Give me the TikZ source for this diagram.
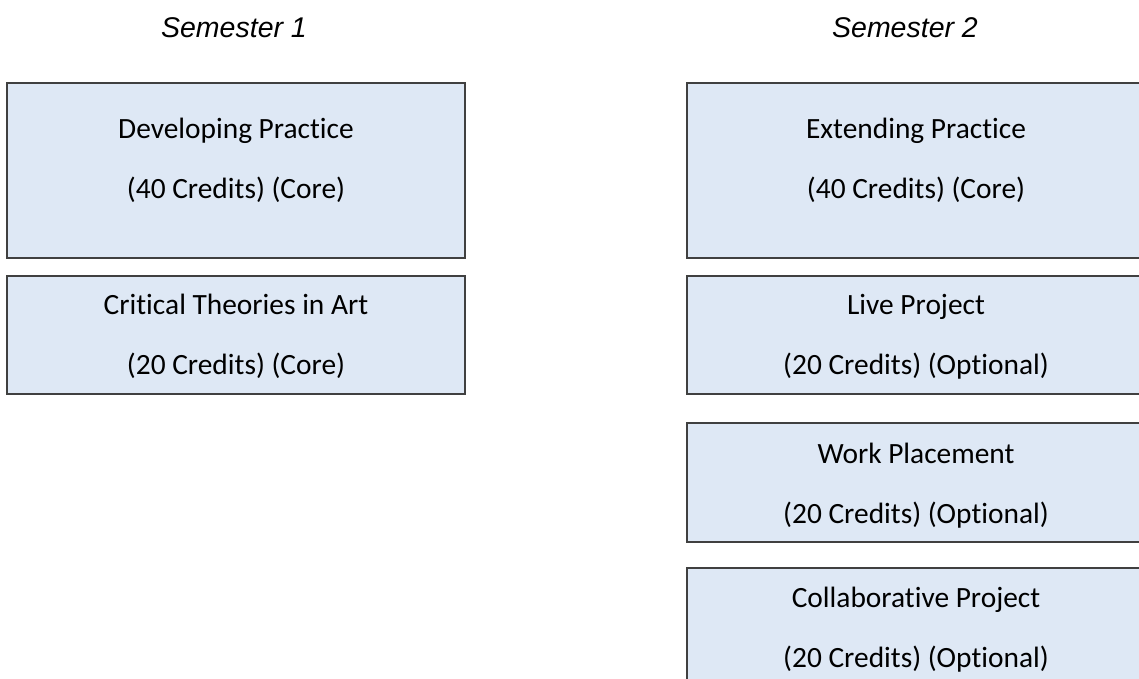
\documentclass[tikz,border=0pt]{standalone}
\usepackage{fontspec}
\setmainfont{Carlito}[Ligatures={NoCommon,NoContextual}]
\newfontfamily\headfont{Liberation Sans}
\definecolor{boxfill}{HTML}{DEE8F5}
\definecolor{boxline}{HTML}{404040}
\begin{document}
\begin{tikzpicture}[x=1pt,y=-1pt,
  modbox/.style={draw=boxline,line width=1.4pt,fill=boxfill},
  label/.style={anchor=base,inner sep=0pt,font=\fontsize{29.4}{34}\selectfont},
  head/.style={anchor=base,inner sep=0pt,font=\headfont\itshape\fontsize{28.5}{33}\selectfont}]
\useasboundingbox (0,0) rectangle (1139,679);
\clip (0,0) rectangle (1139,679);
\fill[white] (0,0) rectangle (1139,679);
% headings
\node[head] (s1) at (234,38) {Semester 1};
\node[head] (s2) at (905,38) {Semester 2};
% boxes
\draw[modbox] (7,83) rectangle (465,258);
\draw[modbox] (7,276) rectangle (465,394);
\draw[modbox] (687,83) rectangle (1147,258);
\draw[modbox] (687,276) rectangle (1147,394);
\draw[modbox] (687,423) rectangle (1147,542);
\draw[modbox] (687,568) rectangle (1147,700);
% texts
\node[label] (a1) at (236,139) {Developing Practice};
\node[label] (a2) at (236,198) {(40 Credits) (Core)};
\node[label] (b1) at (236,314) {Critical Theories in Art};
\node[label] (b2) at (236,374) {(20 Credits) (Core)};
\node[label] (c1) at (916,139) {Extending Practice};
\node[label] (c2) at (916,198) {(40 Credits) (Core)};
\node[label] (d1) at (916,314) {Live Project};
\node[label] (d2) at (916,374) {(20 Credits) (Optional)};
\node[label] (e1) at (916,463) {Work Placement};
\node[label] (e2) at (916,523) {(20 Credits) (Optional)};
\node[label] (f1) at (916,607) {Collaborative Project};
\node[label] (f2) at (916,667) {(20 Credits) (Optional)};
\end{tikzpicture}
\end{document}
